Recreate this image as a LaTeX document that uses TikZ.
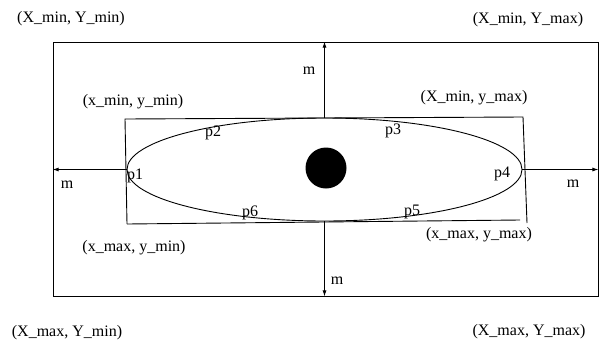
\documentclass[tikz,border=0pt]{standalone}
\usepackage{fontspec}
\setmainfont{Liberation Serif}
\usetikzlibrary{shapes.geometric,arrows.meta}
\begin{document}
\begin{tikzpicture}[x=1pt, y=-1pt, line width=0.9pt, >={Latex[length=6pt,width=4pt]},
	every node/.style={inner sep=0pt, font=\fontsize{16}{19}\selectfont}]
	\useasboundingbox (0,0) rectangle (601,343);
	% outer frame and ellipse
	\node[draw, minimum width=545pt, minimum height=254pt] (frame) at (325.5,169) {};
	\node[draw, ellipse, minimum width=395pt, minimum height=103pt] (ell) at (324.5,169.5) {};
	\node[circle, fill=black, minimum width=41pt, minimum height=40pt] (dot) at (326,168) {};
	% bounding quad of the ellipse
	\coordinate (tl) at (125,119);
	\coordinate (tr) at (523,117);
	\coordinate (bl) at (127,224);
	\coordinate (br) at (520,220);
	\coordinate (brr) at (527,223);
	\draw (bl) -- (tl) -- (tr) -- (brr);
	\draw (bl) -- (br);
	% arrows
	\draw[->] (ell.north) -- (ell.north |- frame.north);
	\draw[->] (ell.south) -- (ell.south |- frame.south);
	\draw[->] (ell.west) -- (ell.west -| frame.west);
	\draw[->] (ell.east) -- (ell.east -| frame.east);
	\node (mup) at (309,71) {m};
	\node (mleft) at (67,185) {m};
	\node (mright) at (573,184) {m};
	\node (mdown) at (337,281) {m};
	% points on the ellipse
	\node (p1) at (135,176) {p1};
	\node (p2) at (213,133) {p2};
	\node (p3) at (393,131) {p3};
	\node (p4) at (502,174) {p4};
	\node (p5) at (412,212) {p5};
	\node (p6) at (250,213) {p6};
	% corner labels
	\node (xminymin) at (133,102) {(x\_min, y\_min)};
	\node (Xminymax) at (474,98) {(X\_min, y\_max)};
	\node (xmaxymin) at (134,248) {(x\_max, y\_min)};
	\node (xmaxymax) at (479,235) {(x\_max, y\_max)};
	\node (XminYmin) at (71,19) {(X\_min, Y\_min)};
	\node (XminYmax) at (528,20) {(X\_min, Y\_max)};
	\node (XmaxYmin) at (67,333) {(X\_max, Y\_min)};
	\node (XmaxYmax) at (529,332) {(X\_max, Y\_max)};
\end{tikzpicture}
\end{document}
